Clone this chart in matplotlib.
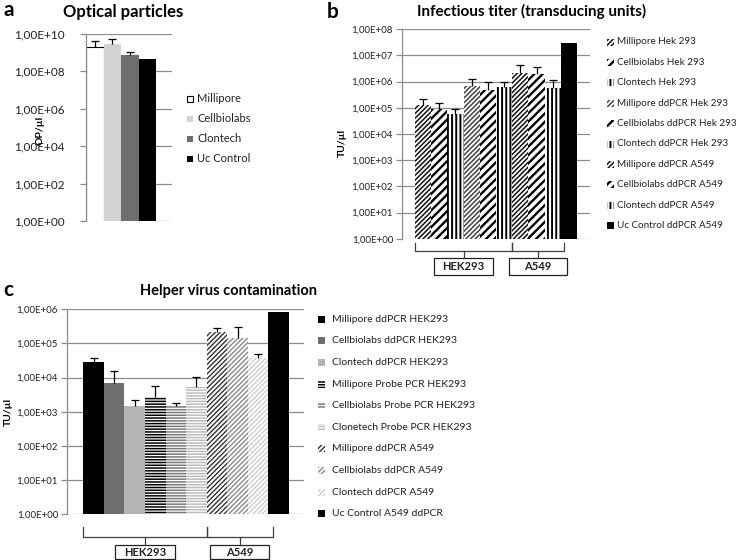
import numpy as np
import matplotlib
matplotlib.use("Agg")
import matplotlib.pyplot as plt
from matplotlib.patches import Rectangle
from matplotlib.lines import Line2D
from matplotlib.ticker import FuncFormatter, NullLocator
from matplotlib.transforms import blended_transform_factory

plt.rcParams['font.family'] = ['Lato', 'DejaVu Sans']

# ---------------- data ----------------
a_labels = ['Millipore', 'Cellbiolabs', 'Clontech', 'Uc Control']
a_values = [2.1e9, 3.0e9, 7.2e8, 4.6e8]
a_err = [1.9e9, 2.2e9, 3.3e8, 0]
a_ticks = [1e0, 1e2, 1e4, 1e6, 1e8, 1e10]

b_labels = ['Millipore Hek 293', 'Cellbiolabs Hek 293', 'Clontech Hek 293',
            'Millipore ddPCR Hek 293', 'Cellbiolabs ddPCR Hek 293', 'Clontech ddPCR Hek 293',
            'Millipore ddPCR A549', 'Cellbiolabs ddPCR A549', 'Clontech ddPCR A549',
            'Uc Control ddPCR A549']
b_values = [1.27e5, 8.7e4, 5.6e4, 6.7e5, 4.8e5, 6.0e5, 2.2e6, 2.0e6, 5.8e5, 3.0e7]
b_err = [8.3e4, 6.1e4, 3.5e4, 6.1e5, 4.8e5, 4.0e5, 2.2e6, 1.5e6, 5.6e5, 0]
b_ticks = [1e0, 1e1, 1e2, 1e3, 1e4, 1e5, 1e6, 1e7, 1e8]

c_labels = ['Millipore ddPCR HEK293', 'Cellbiolabs ddPCR HEK293', 'Clontech ddPCR HEK293',
            'Millipore Probe PCR HEK293', 'Cellbiolabs Probe PCR HEK293', 'Clonetech Probe PCR HEK293',
            'Millipore ddPCR A549', 'Cellbiolabs ddPCR A549', 'Clontech ddPCR A549',
            'Uc Control A549 ddPCR']
c_values = [2.96e4, 6.9e3, 1.44e3, 2.8e3, 1.44e3, 5.5e3, 2.2e5, 1.46e5, 3.8e4, 8.1e5]
c_err = [8.4e3, 8.6e3, 7.1e2, 2.8e3, 3.6e2, 5.0e3, 7.0e4, 1.64e5, 1.1e4, 0]
c_ticks = [1e0, 1e1, 1e2, 1e3, 1e4, 1e5, 1e6]

groups = ['HEK293', 'A549']

# ---------------- styles ----------------
a_styles = [dict(fc='white', ec='black', hatch=None, lw=0.8, hlw=1),
            dict(fc='#d2d2d2', ec='#d2d2d2', hatch=None, lw=0, hlw=1),
            dict(fc='#6e6e6e', ec='#6e6e6e', hatch=None, lw=0, hlw=1),
            dict(fc='black', ec='black', hatch=None, lw=0, hlw=1)]
b_styles = [dict(fc='white', ec='#111111', hatch='///////', lw=0, hlw=1.1),
            dict(fc='white', ec='black', hatch='////', lw=0, hlw=1.7),
            dict(fc='white', ec='black', hatch='||||', lw=0, hlw=1.4),
            dict(fc='white', ec='#444444', hatch='///////', lw=0, hlw=1.1),
            dict(fc='white', ec='black', hatch='////', lw=0, hlw=1.7),
            dict(fc='white', ec='black', hatch='||||', lw=0, hlw=1.4),
            dict(fc='white', ec='#111111', hatch='///////', lw=0, hlw=1.1),
            dict(fc='white', ec='black', hatch='////', lw=0, hlw=1.7),
            dict(fc='white', ec='black', hatch='||||', lw=0, hlw=1.4),
            dict(fc='black', ec='black', hatch=None, lw=0, hlw=1)]
c_styles = [dict(fc='black', ec='black', hatch=None, lw=0, hlw=1),
            dict(fc='#6e6e6e', ec='#6e6e6e', hatch=None, lw=0, hlw=1),
            dict(fc='#b4b4b4', ec='#b4b4b4', hatch=None, lw=0, hlw=1),
            dict(fc='white', ec='black', hatch='------', lw=0, hlw=1.1),
            dict(fc='white', ec='#7a7a7a', hatch='------', lw=0, hlw=1.1),
            dict(fc='white', ec='#bdbdbd', hatch='------', lw=0, hlw=1.1),
            dict(fc='white', ec='#333333', hatch='///////', lw=0, hlw=1.0),
            dict(fc='white', ec='#8a8a8a', hatch='///////', lw=0, hlw=1.0),
            dict(fc='white', ec='#cfcfcf', hatch='///////', lw=0, hlw=1.0),
            dict(fc='black', ec='black', hatch=None, lw=0, hlw=1)]

W, H = 740, 560
fig = plt.figure(figsize=(W / 100, H / 100), dpi=100)


def fx(x):
    return x / W


def fy(y):
    return 1 - y / H


def add_axes(l, t, r, b):
    return fig.add_axes([fx(l), fy(b), fx(r) - fx(l), fy(t) - fy(b)])


fmt = FuncFormatter(lambda v, p: f"{v:.2E}".replace('.', ','))


def setup(ax, ticks, fs, pad):
    ax.set_yscale('log')
    ax.set_ylim(ticks[0], ticks[-1])
    ax.set_yticks(ticks)
    ax.yaxis.set_minor_locator(NullLocator())
    ax.yaxis.set_major_formatter(fmt)
    ax.set_xticks([])
    for s in ['top', 'right', 'bottom']:
        ax.spines[s].set_visible(False)
    ax.spines['left'].set_color('#8c8c8c')
    ax.spines['left'].set_linewidth(0.9)
    ax.tick_params(axis='y', length=4.5, width=0.9, color='#8c8c8c',
                   labelsize=fs, pad=pad, labelcolor='#222222')
    ax.yaxis.grid(True, color='#8c8c8c', linewidth=0.9)
    ax.set_axisbelow(True)


def draw_bars(ax, values, err, styles, width=1.0):
    x = np.arange(len(values))
    for i, (v, st) in enumerate(zip(values, styles)):
        with plt.rc_context({'hatch.linewidth': st['hlw']}):
            bars = ax.bar(x[i], v, width=width, color=st['fc'], edgecolor=st['ec'],
                          linewidth=st['lw'], hatch=st['hatch'], zorder=2)
        for p in bars:
            if hasattr(p, 'set_hatch_linewidth'):
                p.set_hatch_linewidth(st['hlw'])
    err = np.asarray(err, dtype=float)
    vals = np.asarray(values, dtype=float)
    m = err > 0
    ax.errorbar(x[m], vals[m], yerr=[np.zeros(m.sum()), err[m]], fmt='none',
                ecolor='black', elinewidth=0.9, capsize=0, zorder=3)
    ax.plot(x[m], vals[m] + err[m], linestyle='none', marker='_', markersize=5.5,
            markeredgewidth=0.9, color='black', zorder=3)


def draw_legend(labels, styles, xm, xt, y0, dy, fs, msize=6):
    for i, (lab, st) in enumerate(zip(labels, styles)):
        y = y0 + i * dy
        with plt.rc_context({'hatch.linewidth': st['hlw']}):
            r = Rectangle((fx(xm), fy(y + msize / 2)), msize / W, msize / H,
                          transform=fig.transFigure, facecolor=st['fc'],
                          edgecolor=st['ec'], hatch=st['hatch'],
                          linewidth=0.8 if st['hatch'] is None and st['fc'] == 'white' else 0)
        if hasattr(r, 'set_hatch_linewidth'):
            r.set_hatch_linewidth(st['hlw'])
        fig.patches.append(r)
        fig.text(fx(xt), fy(y), lab, fontsize=fs, va='center', ha='left', color='#222222')


def draw_brackets(ax, spans, y_top, y_h, y_box_top, y_box_bot, box_w):
    tr = blended_transform_factory(ax.transData, fig.transFigure)
    col = '#404040'
    for (x0, x1, xm), name in zip(spans, groups):
        ax.add_line(Line2D([x0, x0, x1, x1], [fy(y_top), fy(y_h), fy(y_h), fy(y_top)],
                           transform=tr, color=col, lw=0.9, clip_on=False))
        ax.add_line(Line2D([xm, xm], [fy(y_h), fy(y_box_top)], transform=tr,
                           color=col, lw=0.9, clip_on=False))
        ax.add_patch(Rectangle((xm - box_w / 2, fy(y_box_bot)), box_w,
                               fy(y_box_top) - fy(y_box_bot), transform=tr,
                               facecolor='white', edgecolor='#222222', lw=0.9,
                               clip_on=False))
        ax.text(xm, fy((y_box_top + y_box_bot) / 2), name, transform=tr, ha='center',
                va='center', fontsize=8, fontweight='bold', color='#222222')


# ---------------- panel a ----------------
ax_a = add_axes(86, 34, 172, 221)
setup(ax_a, a_ticks, 8.5, 11)
draw_bars(ax_a, a_values, a_err, a_styles)
ax_a.set_xlim(-0.5, 4.4)
fig.text(fx(40), fy(130), 'OP/µl', rotation=90, fontsize=7.5, fontweight='bold',
         ha='center', va='center')
fig.text(fx(123), fy(12), 'Optical particles', fontsize=12, fontweight='bold',
         ha='center', va='center')
fig.text(fx(4), fy(10), 'a', fontsize=15, fontweight='bold', ha='left', va='center')
draw_legend(a_labels, a_styles, 187, 197, 98.5, 20, 8)

# ---------------- panel b ----------------
ax_b = add_axes(402, 29.3, 590, 238.7)
setup(ax_b, b_ticks, 7, 2)
draw_bars(ax_b, b_values, b_err, b_styles)
ax_b.set_xlim(-1.3, 10.3)
fig.text(fx(342), fy(143), 'TU/µl', rotation=90, fontsize=7.5, fontweight='bold',
         ha='center', va='center')
fig.text(fx(532), fy(11), 'Infectious titer (transducing units)', fontsize=11,
         fontweight='bold', ha='center', va='center')
fig.text(fx(327), fy(12), 'b', fontsize=15, fontweight='bold', ha='left', va='center')
draw_legend(b_labels, b_styles, 607, 617, 42, 20.4, 7.1, msize=7)
draw_brackets(ax_b, [(-0.5, 5.5, 2.5), (5.5, 8.7, 7.1)], 243, 250.5, 257.5, 275, 3.6)

# ---------------- panel c ----------------
ax_c = add_axes(67, 309.3, 304, 514.3)
setup(ax_c, c_ticks, 7, 2)
draw_bars(ax_c, c_values, c_err, c_styles)
ax_c.set_xlim(-1.29, 10.23)
fig.text(fx(8), fy(412), 'TU/µl', rotation=90, fontsize=7.5, fontweight='bold',
         ha='center', va='center')
fig.text(fx(229), fy(291), 'Helper virus contamination', fontsize=10.5,
         fontweight='bold', ha='center', va='center')
fig.text(fx(3), fy(290), 'c', fontsize=15, fontweight='bold', ha='left', va='center')
draw_legend(c_labels, c_styles, 318, 332, 319.3, 21.6, 7.5, msize=7)
draw_brackets(ax_c, [(-0.5, 5.5, 2.5), (5.5, 8.7, 7.1)], 527, 536.5, 545, 559, 2.9)

fig.savefig('out.png', dpi=100)
